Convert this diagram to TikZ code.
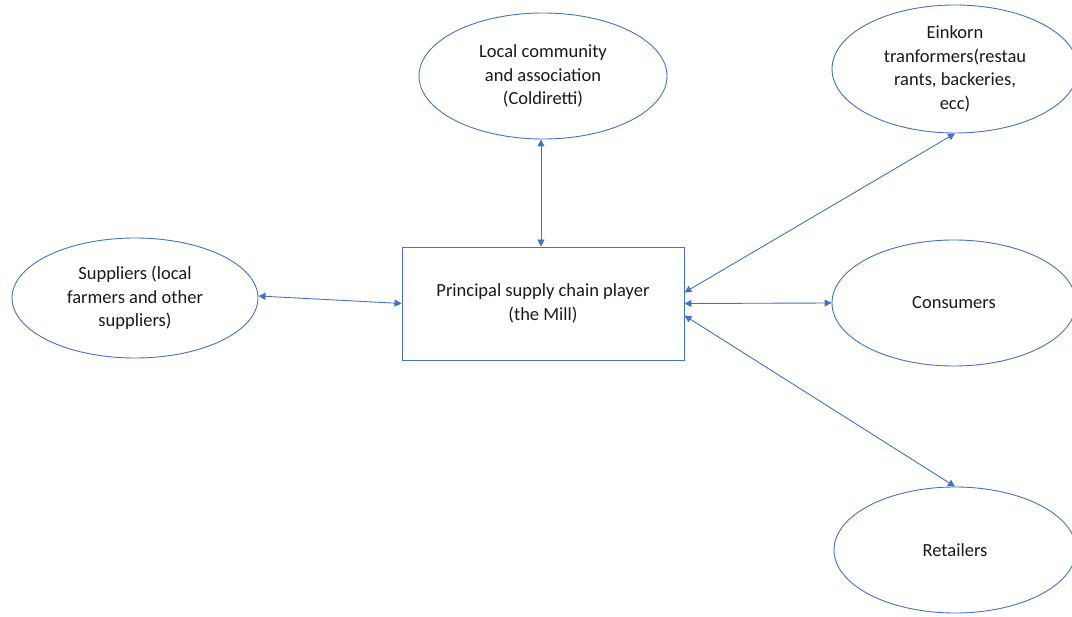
\documentclass[tikz,border=0pt]{standalone}
\usepackage{fontspec}
\setmainfont{Carlito}
\usetikzlibrary{shapes.geometric,arrows.meta}
\definecolor{oblue}{RGB}{68,114,196}
\definecolor{txt}{RGB}{25,25,25}
\begin{document}
\begin{tikzpicture}[x=1pt,y=-1pt,
  ell/.style={ellipse,draw=oblue,line width=0.9pt,inner sep=0pt,align=center,text=txt,font=\fontsize{18.5}{23.5}\selectfont},
  box/.style={rectangle,draw=oblue,line width=0.9pt,inner sep=0pt,align=center,text=txt,font=\fontsize{18.5}{23.5}\selectfont},
  conn/.style={draw=oblue,line width=0.9pt,{Triangle[width=7pt,length=7pt]}-{Triangle[width=7pt,length=7pt]}}]
\useasboundingbox (0,0) rectangle (1072,617);
\node[ell,minimum width=248pt,minimum height=126pt] (local) at (543,76) {Local community\\and association\\(Coldiretti)};
\node[ell,minimum width=246pt,minimum height=128pt] (eink) at (955,69) {Einkorn\\tranformers(restau\\rants, backeries,\\ecc)};
\node[ell,minimum width=246pt,minimum height=120pt] (sup) at (135,298) {Suppliers (local\\farmers and other\\suppliers)};
\node[box,minimum width=282pt,minimum height=113pt] (mill) at (543,303.5) {Principal supply chain player\\(the Mill)};
\node[ell,minimum width=244pt,minimum height=126pt] (cons) at (954,303) {Consumers};
\node[ell,minimum width=242pt,minimum height=126pt] (ret) at (955,550) {Retailers};
\draw[conn] ([xshift=-2pt]local.south) -- ([xshift=-2pt]mill.north);
\draw[conn] ([yshift=2pt]sup.east) -- (mill.west);
\draw[conn] (eink.south) -- ([yshift=11pt]mill.east);
\draw[conn] (mill.east) -- (cons.west);
\draw[conn] ([yshift=-12pt]mill.east) -- (ret.north);
\end{tikzpicture}
\end{document}
